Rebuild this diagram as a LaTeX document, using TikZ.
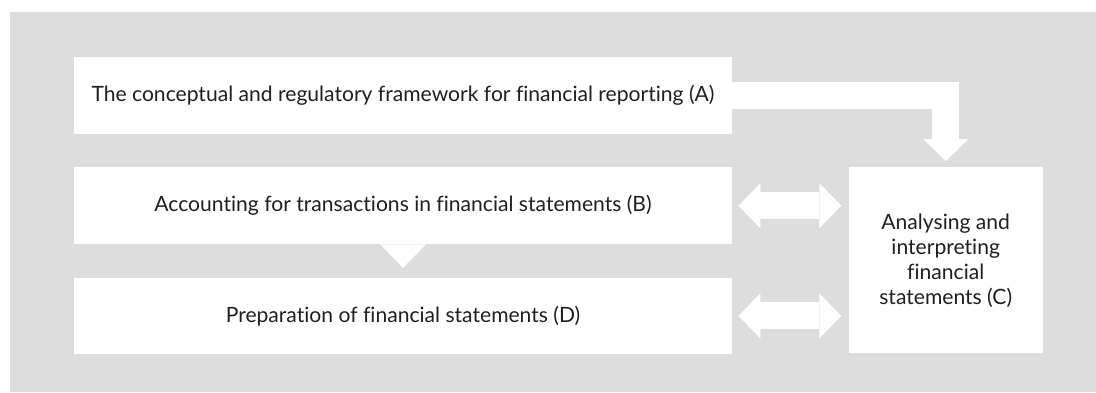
\documentclass[tikz,border=0pt]{standalone}
\usepackage{fontspec}
\setmainfont[Ligatures=NoCommon]{Lato}
\usetikzlibrary{arrows.meta,positioning}
\definecolor{panelgray}{RGB}{220,221,220}
\definecolor{inkblack}{RGB}{35,31,32}
\tikzset{
    %Define standard arrow tip
    >={Triangle[width=0.9cm,length=0.44cm,line width=0pt]},
    topic/.style={
      rectangle,
      fill=white,
      text=inkblack,
      font=\fontsize{12}{14.2}\selectfont,
      minimum width=13.16cm,
      minimum height=1.53cm,
      inner sep=0pt,
      align=center},
    hub/.style={
      topic,
      minimum width=3.88cm,
      minimum height=3.72cm},
    flow/.style={
      draw=white,
      line width=0.54cm}
}
\begin{document}
\begin{tikzpicture}[node distance=0.66cm]
    \useasboundingbox (0,0) rectangle (21.92,-7.84);
    \fill [panelgray] (0.2,-0.24) rectangle (21.92,-7.84);
    \node (A) [topic] at (8.06,-1.91)
          {The conceptual and regulatory framework for financial reporting (A)};
    \node (B) [topic] [below=of A]
          {Accounting for transactions in financial statements (B)};
    \node (D) [topic] [below=of B]
          {Preparation of financial statements (D)};
    \node (C) [hub, anchor=north west] at ([xshift=2.32cm]B.north east)
          {Analysing and\\interpreting\\financial\\statements (C)};
    % notch under B
    \fill [white] ([xshift=-0.46cm]B.south) -- ([xshift=0.46cm]B.south)
          -- ([yshift=-0.47cm]B.south) -- cycle;
    \draw [flow,->,shorten >=0.12cm] (A.east) -| (C.north);
    \draw [flow,<->,shorten <=0.12cm,shorten >=0.14cm] (B.east) -- (B.east -| C.west);
    \draw [flow,<->,shorten <=0.12cm,shorten >=0.14cm] (D.east) -- (D.east -| C.west);
\end{tikzpicture}
\end{document}
